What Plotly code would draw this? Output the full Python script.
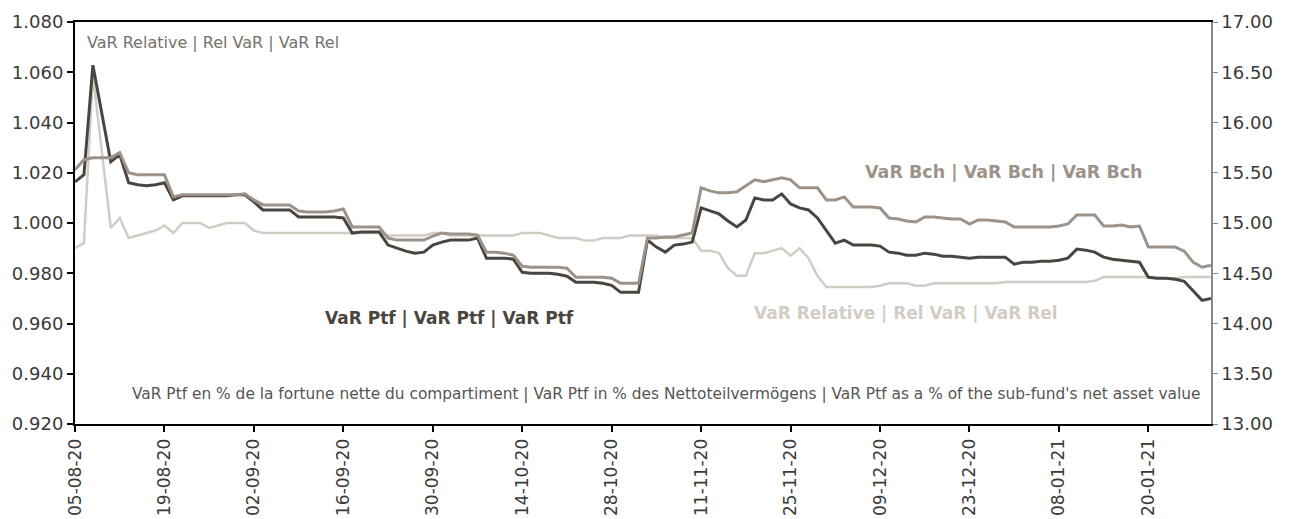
import plotly.graph_objects as go

# data (business-day index)
tick_labels = ["05-08-20", "19-08-20", "02-09-20", "16-09-20", "30-09-20", "14-10-20",
               "28-10-20", "11-11-20", "25-11-20", "09-12-20", "23-12-20", "08-01-21",
               "20-01-21"]

var_ptf = [15.41, 15.48, 16.57, 16.09, 15.61, 15.68, 15.40, 15.38, 15.37, 15.38,
           15.40, 15.23, 15.27, 15.27, 15.27, 15.27, 15.27, 15.27, 15.28, 15.28,
           15.21, 15.13, 15.13, 15.13, 15.13, 15.06, 15.06, 15.06, 15.06, 15.06,
           15.05, 14.90, 14.91, 14.91, 14.91, 14.78, 14.75, 14.72, 14.70, 14.71,
           14.78, 14.81, 14.83, 14.83, 14.83, 14.85, 14.65, 14.65, 14.65, 14.64,
           14.51, 14.50, 14.50, 14.50, 14.49, 14.47, 14.41, 14.41, 14.41, 14.40,
           14.38, 14.31, 14.31, 14.31, 14.83, 14.76, 14.71, 14.78, 14.79, 14.81,
           15.15, 15.12, 15.09, 15.02, 14.96, 15.03, 15.25, 15.23, 15.23, 15.29,
           15.19, 15.15, 15.13, 15.05, 14.93, 14.80, 14.83, 14.78, 14.78, 14.78,
           14.77, 14.71, 14.70, 14.68, 14.68, 14.70, 14.69, 14.67, 14.67, 14.66,
           14.65, 14.66, 14.66, 14.66, 14.66, 14.59, 14.61, 14.61, 14.62, 14.62,
           14.63, 14.65, 14.74, 14.73, 14.71, 14.66, 14.64, 14.63, 14.62, 14.61,
           14.46, 14.45, 14.45, 14.44, 14.42, 14.33, 14.23, 14.25]

var_bch = [15.53, 15.63, 15.65, 15.65, 15.65, 15.70, 15.50, 15.48, 15.48, 15.48,
           15.48, 15.26, 15.28, 15.28, 15.28, 15.28, 15.28, 15.28, 15.28, 15.29,
           15.23, 15.18, 15.18, 15.18, 15.18, 15.12, 15.11, 15.11, 15.11, 15.12,
           15.14, 14.96, 14.96, 14.96, 14.96, 14.85, 14.83, 14.83, 14.83, 14.83,
           14.87, 14.90, 14.89, 14.89, 14.89, 14.88, 14.71, 14.71, 14.70, 14.68,
           14.57, 14.56, 14.56, 14.56, 14.56, 14.55, 14.46, 14.46, 14.46, 14.46,
           14.45, 14.40, 14.40, 14.40, 14.85, 14.85, 14.86, 14.86, 14.88, 14.90,
           15.35, 15.32, 15.30, 15.30, 15.31, 15.37, 15.43, 15.41, 15.43, 15.45,
           15.43, 15.35, 15.35, 15.35, 15.23, 15.23, 15.26, 15.16, 15.16, 15.16,
           15.15, 15.05, 15.04, 15.02, 15.01, 15.06, 15.06, 15.05, 15.04, 15.04,
           14.99, 15.03, 15.03, 15.02, 15.01, 14.96, 14.96, 14.96, 14.96, 14.96,
           14.97, 14.99, 15.08, 15.08, 15.08, 14.97, 14.97, 14.98, 14.96, 14.97,
           14.76, 14.76, 14.76, 14.76, 14.72, 14.61, 14.56, 14.58]

var_rel = [0.990, 0.992, 1.059, 1.028, 0.998, 1.002, 0.994, 0.995, 0.996, 0.997,
           0.999, 0.996, 1.000, 1.000, 1.000, 0.998, 0.999, 1.000, 1.000, 1.000,
           0.997, 0.996, 0.996, 0.996, 0.996, 0.996, 0.996, 0.996, 0.996, 0.996,
           0.996, 0.996, 0.996, 0.996, 0.996, 0.995, 0.995, 0.995, 0.995, 0.995,
           0.996, 0.996, 0.995, 0.995, 0.995, 0.995, 0.995, 0.995, 0.995, 0.995,
           0.996, 0.996, 0.996, 0.995, 0.994, 0.994, 0.994, 0.993, 0.993, 0.994,
           0.994, 0.994, 0.995, 0.995, 0.995, 0.995, 0.994, 0.994, 0.994, 0.994,
           0.989, 0.989, 0.988, 0.982, 0.979, 0.979, 0.988, 0.988, 0.989, 0.990,
           0.987, 0.990, 0.986, 0.979, 0.9745, 0.9745, 0.9745, 0.9745, 0.9745, 0.9745,
           0.975, 0.976, 0.976, 0.976, 0.975, 0.975, 0.976, 0.976, 0.976, 0.976,
           0.976, 0.976, 0.976, 0.976, 0.9765, 0.9765, 0.9765, 0.9765, 0.9765, 0.9765,
           0.9765, 0.9765, 0.9765, 0.9765, 0.977, 0.9785, 0.9785, 0.9785, 0.9785, 0.9785,
           0.9785, 0.978, 0.978, 0.978, 0.9785, 0.9785, 0.9785, 0.9785]

days = list(range(len(var_ptf)))
tick_pos = days[::10][:len(tick_labels)]

DARK = "#4b4540"
MID = "#9d9289"
LIGHT = "#d3ccc5"
FONT = "DejaVu Sans"

fig = go.Figure()

fig.add_trace(go.Scatter(x=days, y=var_rel, mode="lines", name="VaR Relative",
                         line=dict(color=LIGHT, width=2.5)))
fig.add_trace(go.Scatter(x=days, y=var_ptf, mode="lines", name="VaR Ptf", yaxis="y2",
                         line=dict(color=DARK, width=3)))
fig.add_trace(go.Scatter(x=days, y=var_bch, mode="lines", name="VaR Bch", yaxis="y2",
                         line=dict(color=MID, width=3)))

# labels inside the plot
notes = [
    ("VaR Relative | Rel VaR | VaR Rel", 0.009, 0.948, "left", dict(size=16, color="#77716c"), False),
    ("VaR Bch | VaR Bch | VaR Bch", 0.818, 0.627, "center", dict(size=17.5, color=MID), True),
    ("VaR Ptf | VaR Ptf | VaR Ptf", 0.330, 0.264, "center", dict(size=17, color=DARK), True),
    ("VaR Relative | Rel VaR | VaR Rel", 0.7315, 0.276, "center", dict(size=17, color=LIGHT), True),
    ("VaR Ptf en % de la fortune nette du compartiment | VaR Ptf in % des Nettoteilvermögens"
     " | VaR Ptf as a % of the sub-fund's net asset value", 0.993, 0.075, "right",
     dict(size=15.4, color="#555555"), False),
]
for text, x, y, anchor, font, bold in notes:
    fig.add_annotation(
        x=x, y=y, xref="paper", yref="paper", xanchor=anchor, yanchor="middle",
        text=f"<b>{text}</b>" if bold else text, showarrow=False,
        font=dict(family=FONT, **font),
    )

# page body adds 8px, so the figure is shrunk by that much
fig.update_layout(
    width=1287, height=511,
    margin=dict(l=67, r=84, t=14, b=95),
    plot_bgcolor="white", paper_bgcolor="white",
    showlegend=False,
    font=dict(family=FONT, color="#3a3a3a"),
    xaxis=dict(range=[0, days[-1]], tickvals=tick_pos, ticktext=tick_labels,
               tickangle=-90, ticks="outside", ticklen=6, tickcolor="black", tickwidth=2,
               showline=True, linecolor="black", linewidth=2, mirror=True,
               showgrid=False, zeroline=False, tickfont=dict(size=17), automargin=False),
    yaxis=dict(range=[0.92, 1.08], dtick=0.02, tickformat=".3f",
               ticks="outside", ticklen=6, tickcolor="black", tickwidth=2,
               showline=True, linecolor="black", linewidth=2,
               showgrid=False, zeroline=False, tickfont=dict(size=18), automargin=False),
    yaxis2=dict(range=[13, 17], dtick=0.5, tickformat=".2f", overlaying="y", side="right",
                ticks="outside", ticklen=5, tickcolor="#888888", tickwidth=1,
                showline=True, linecolor="#888888", linewidth=1.5,
                showgrid=False, zeroline=False, tickfont=dict(size=18), automargin=False),
)

fig.write_html("out.html")
